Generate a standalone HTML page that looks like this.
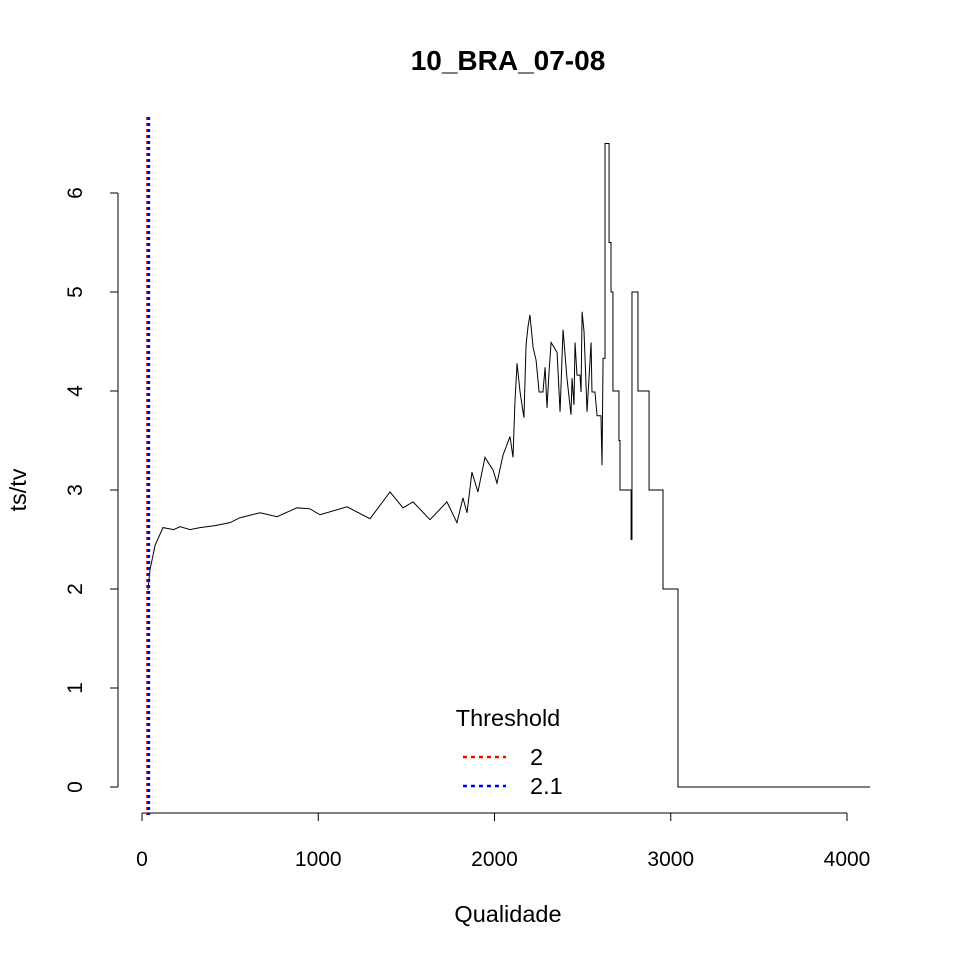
<!DOCTYPE html>
<html><head><meta charset="utf-8"><style>
body{margin:0;background:#fff}
svg{display:block;font-family:"Liberation Sans",sans-serif}
</style></head><body>
<svg id="chart" width="960" height="960" viewBox="0 0 960 960" xmlns="http://www.w3.org/2000/svg">
<rect width="960" height="960" fill="#fff"/>
<text x="508" y="70" text-anchor="middle" font-size="28" font-weight="bold">10_BRA_07-08</text>
<text x="508" y="922" text-anchor="middle" font-size="23.5">Qualidade</text>
<text transform="translate(26,490) rotate(-90)" text-anchor="middle" font-size="23.5">ts/tv</text>
<g id="axes"></g>
<g id="series"></g>
<g>
<text x="508" y="726" text-anchor="middle" font-size="23.5">Threshold</text>
<line x1="463" y1="757" x2="506" y2="757" stroke="#f00" stroke-width="2.5" stroke-dasharray="4,4"/>
<text x="530" y="765" font-size="23.5">2</text>
<line x1="463" y1="786" x2="506" y2="786" stroke="#00f" stroke-width="2.5" stroke-dasharray="4,4"/>
<text x="530" y="794" font-size="23.5">2.1</text>
</g>
</svg>
<script>
const xTicks=[0,1000,2000,3000,4000];
const yTicks=[0,1,2,3,4,5,6];
const thresholds=[2,2.1];
const thresholdX=[35,35];
const xs=[34,45,74,119,180,216,272,329,414,499,556,670,766,879,953,1010,1163,1294,1407,1481,1538,1634,1730,1787,1821,1844,1872,1906,1946,1992,2014,2048,2088,2105,2116,2128,2145,2167,2179,2190,2201,2219,2236,2253,2275,2287,2298,2309,2321,2355,2372,2389,2406,2411,2434,2440,2451,2457,2468,2485,2491,2497,2508,2525,2548,2553,2570,2582,2604,2610,2616,2627,2627,2650,2650,2661,2661,2672,2672,2706,2706,2712,2712,2775,2775,2780,2780,2814,2814,2877,2877,2956,2956,3041,3041,4131];
const ys=[1.99,2.19,2.44,2.62,2.60,2.63,2.60,2.62,2.64,2.67,2.72,2.77,2.73,2.82,2.81,2.75,2.83,2.71,2.98,2.82,2.88,2.70,2.88,2.67,2.92,2.77,3.18,2.98,3.33,3.20,3.07,3.35,3.54,3.33,3.89,4.28,3.99,3.73,4.46,4.65,4.77,4.44,4.31,3.99,3.99,4.24,3.83,4.18,4.49,4.39,3.79,4.62,4.24,4.13,3.76,4.13,3.86,4.49,4.16,4.16,3.99,4.80,4.60,3.79,4.49,3.99,3.99,3.75,3.75,3.25,4.33,4.33,6.5,6.5,5.5,5.5,5.0,5.0,4.0,4.0,3.5,3.5,3.0,3.0,2.5,2.5,5.0,5.0,4.0,4.0,3.0,3.0,2.0,2.0,0,0];
const NS="http://www.w3.org/2000/svg";
const sx=v=>142+v*0.17625;
const sy=v=>787-v*99;
const axes=document.getElementById('axes');
const series=document.getElementById('series');
function mk(tag,attrs,parent){const e=document.createElementNS(NS,tag);for(const k in attrs)e.setAttribute(k,attrs[k]);parent.appendChild(e);return e;}
let xl=mk('line',{x1:sx(xTicks[0]),y1:813,x2:sx(xTicks[xTicks.length-1]),y2:813,stroke:'#000'},axes);


xTicks.forEach(t=>{
 const l=mk('line',{x1:sx(t),y1:813,x2:sx(t),y2:821,stroke:'#000'},axes);
 
 
 const tx=mk('text',{x:sx(t),y:866,'text-anchor':'middle','font-size':21},axes);
 tx.textContent=t;
 
 
});
let yl=mk('line',{x1:118,y1:sy(yTicks[0]),x2:118,y2:sy(yTicks[yTicks.length-1]),stroke:'#000'},axes);


yTicks.forEach(t=>{
 const l=mk('line',{x1:110,y1:sy(t),x2:118,y2:sy(t),stroke:'#000'},axes);
 
 
 const tx=mk('text',{transform:`translate(82,${sy(t)}) rotate(-90)`,'text-anchor':'middle','font-size':21},axes);
 tx.textContent=t;
 
 
});
const n=Math.min(xs.length,ys.length);
const pts=[];
for(let i=0;i<n;i++)pts.push(sx(xs[i])+','+sy(ys[i]));
const pl=mk('polyline',{points:pts.join(' '),fill:'none',stroke:'#000','stroke-width':1},series);


const cols=['#f00','#00f'];
thresholds.forEach((t,i)=>{
 const l=mk('line',{x1:sx(thresholdX[i])+(i?0.5:-0.5),y1:117,x2:sx(thresholdX[i])+(i?0.5:-0.5),y2:815,stroke:cols[i],'stroke-width':3,'stroke-dasharray':'3,3'},series);
 
 
});
</script>
</body></html>
